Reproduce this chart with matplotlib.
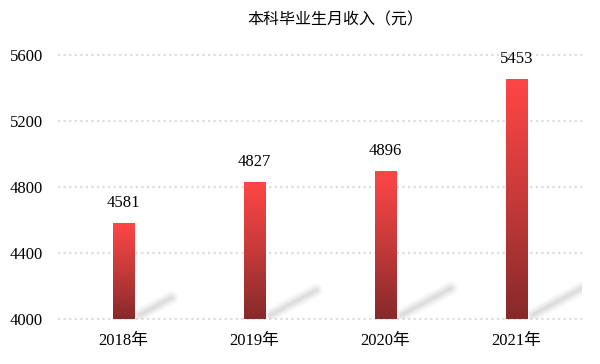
import numpy as np
import matplotlib
matplotlib.use("Agg")
import matplotlib.pyplot as plt
from matplotlib.colors import LinearSegmentedColormap

categories = ["2018年", "2019年", "2020年", "2021年"]
values = [4581, 4827, 4896, 5453]
yticks = [4000, 4400, 4800, 5200, 5600]
title = "本科毕业生月收入（元）"

serif = ["Liberation Serif", "Noto Sans CJK SC"]
cjk = ["Noto Sans CJK SC", "DejaVu Sans"]

fig = plt.figure(figsize=(6, 3.64), dpi=100)
ax = fig.add_axes([58/600, (364-319)/364, (582-58)/600, (319-55)/364])

for s in ax.spines.values():
    s.set_visible(False)
ax.set_yticks(yticks)
ax.set_yticklabels([str(t) for t in yticks], family=serif, fontsize=12)
ax.tick_params(axis="y", length=0, pad=11)
ax.tick_params(axis="x", length=0, pad=10)
for t in yticks:
    ax.plot([-0.5, 3.52], [t, t], color="#dddddd", lw=1.6, ls=(0, (1, 1.5)),
            zorder=0, clip_on=False)

cmap = LinearSegmentedColormap.from_list("g", ["#862a2a", "#c63a3a", "#ff4646"])
w = 0.167
xs = np.arange(len(categories))
grad = np.linspace(0, 1, 256).reshape(-1, 1)
for x, v in zip(xs, values):
    # shadow
    x0 = x + w/2 + 0.04
    y0 = 4000 + 25
    x1 = x0 + 0.00042 * (v - 4000)
    y1 = y0 + 0.18 * (v - 4000)
    for lw, a in [(10, 0.04), (8, 0.05), (6, 0.06), (4, 0.07), (2, 0.08)]:
        ax.plot([x0, x1], [y0, y1], color="#888888", lw=lw, alpha=a,
                solid_capstyle="round", zorder=1)
    ax.imshow(grad, cmap=cmap, origin="lower", aspect="auto",
              extent=[x - w/2, x + w/2, 4000, v], zorder=2)
    ax.annotate(str(v), (x, v), xytext=(0, 9), textcoords="offset points",
                ha="center", va="bottom", family=serif, fontsize=12)

ax.set_xlim(-0.5, 3.5)
ax.set_ylim(4000, 5600)
ax.set_xticks(xs)
ax.set_xticklabels(categories, family=serif, fontsize=12)

fig.text(335/600, 1 - 20/364, title, ha="center", va="center",
         family=cjk, fontsize=11.5)

fig.savefig("out.png", dpi=100)
